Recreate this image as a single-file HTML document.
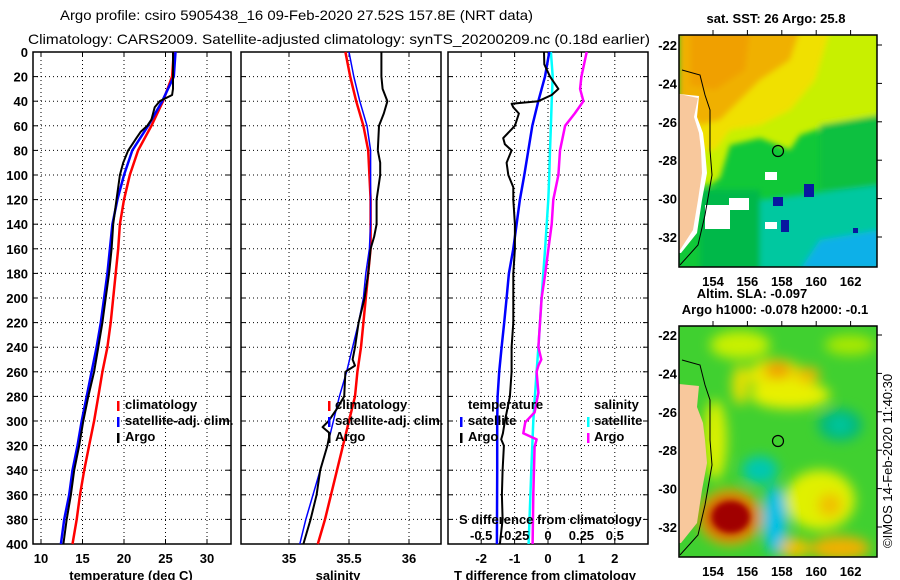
<!DOCTYPE html>
<html><head><meta charset="utf-8"><style>
html,body{margin:0;padding:0;background:#fff;}
svg{display:block;font-family:"Liberation Sans",sans-serif;}
.t{font-size:13px;font-weight:bold;fill:#000;}
</style></head><body>
<svg id="chart" width="900" height="580" viewBox="0 0 900 580" xmlns="http://www.w3.org/2000/svg">
<defs>
<filter id="bl" x="-20%" y="-20%" width="140%" height="140%"><feGaussianBlur stdDeviation="6"/></filter>
<filter id="bl2" x="-20%" y="-20%" width="140%" height="140%"><feGaussianBlur stdDeviation="3"/></filter>
<clipPath id="cm1"><rect x="679" y="35" width="198" height="232"/></clipPath>
<clipPath id="cm2"><rect x="679" y="326" width="198" height="231"/></clipPath>
</defs>
<text x="60" y="20" font-size="14" textLength="473" lengthAdjust="spacingAndGlyphs">Argo profile: csiro 5905438_16 09-Feb-2020 27.52S 157.8E (NRT data)</text>
<text x="28" y="44" font-size="14" textLength="622" lengthAdjust="spacingAndGlyphs">Climatology: CARS2009. Satellite-adjusted climatology: synTS_20200209.nc (0.18d earlier)</text>
<g id="plots"></g>

<!-- SST map -->
<g clip-path="url(#cm1)">
<rect x="679" y="35" width="198" height="232" fill="#10c838"/>
<g filter="url(#bl2)">
<polygon points="679,30 880,30 880,118 840,122 800,135 790,150 760,138 730,145 720,178 710,185 690,185 679,180" fill="#c8f000"/>
<polygon points="679,30 830,30 815,80 790,110 760,125 730,130 715,150 700,150 679,130" fill="#f0e000"/>
<polygon points="679,30 800,30 790,60 760,80 740,100 720,120 700,125 679,100" fill="#f0b000"/>
<polygon points="690,30 750,30 745,70 715,90 690,85" fill="#f0a000"/>
<polygon points="820,125 880,115 880,190 820,190" fill="#08c040"/>
<polygon points="760,200 880,185 880,270 760,270" fill="#00c8a0"/>
<polygon points="820,240 880,230 880,270 800,270" fill="#10b0e8"/>
<polygon points="700,190 760,190 760,270 700,270" fill="#00b848"/>
</g>
<rect x="705" y="205" width="25" height="24" fill="#fff"/>
<rect x="729" y="198" width="20" height="12" fill="#fff"/>
<rect x="765" y="172" width="12" height="8" fill="#fff"/>
<rect x="765" y="222" width="12" height="7" fill="#fff"/>
<rect x="773" y="197" width="10" height="9" fill="#0818a0"/>
<rect x="804" y="184" width="10" height="13" fill="#0818a0"/>
<rect x="781" y="220" width="8" height="12" fill="#0818a0"/>
<rect x="853" y="228" width="5" height="5" fill="#0818a0"/>
<polygon points="679,94 699,96 697,117 703,133 705,150 707,173 702,200 697,233 681,253 679,253" fill="#fff"/>
<polygon points="679,94 698,98 694,117 699,133 701,150 702,173 698,200 693,230 680,250 679,250" fill="#f8c89c"/>
<polyline points="682,70 700,75 705,95 710,110 710,150 712,175 705,215 698,245 680,265" fill="none" stroke="#000" stroke-width="1"/>
<circle cx="778" cy="151" r="5.5" fill="none" stroke="#000" stroke-width="1.2"/>
</g>
<rect x="679" y="35" width="198" height="232" fill="none" stroke="#000" stroke-width="1.5"/>

<!-- SLA map -->
<g clip-path="url(#cm2)">
<rect x="679" y="326" width="198" height="231" fill="#40d030"/>
<g filter="url(#bl)">
<ellipse cx="740" cy="345" rx="30" ry="14" fill="#c8f000"/>
<ellipse cx="775" cy="375" rx="28" ry="16" fill="#e8e800"/>
<ellipse cx="790" cy="395" rx="40" ry="14" fill="#e8f000"/>
<ellipse cx="778" cy="370" rx="14" ry="9" fill="#f0a000"/>
<ellipse cx="808" cy="375" rx="12" ry="8" fill="#f0b800"/>
<ellipse cx="740" cy="385" rx="8" ry="20" fill="#e8e000"/>
<ellipse cx="850" cy="345" rx="25" ry="10" fill="#a8e800"/>
<ellipse cx="840" cy="425" rx="22" ry="16" fill="#00b880"/>
<ellipse cx="840" cy="425" rx="10" ry="8" fill="#00c8a0"/>
<ellipse cx="820" cy="500" rx="35" ry="30" fill="#e0f000"/>
<ellipse cx="830" cy="505" rx="12" ry="12" fill="#f0c000"/>
<ellipse cx="760" cy="470" rx="18" ry="14" fill="#00c8b0"/>
<ellipse cx="775" cy="520" rx="12" ry="35" fill="#00c0e8"/>
<ellipse cx="840" cy="548" rx="30" ry="12" fill="#f0b000"/>
<ellipse cx="795" cy="548" rx="15" ry="10" fill="#f0c000"/>
<ellipse cx="715" cy="440" rx="12" ry="40" fill="#d8f000"/>
<ellipse cx="730" cy="517" rx="32" ry="28" fill="#f0a000"/>
<ellipse cx="730" cy="517" rx="24" ry="20" fill="#c01000"/>
</g>
<ellipse cx="731" cy="517" rx="18" ry="15" fill="#a00000" filter="url(#bl2)"/>
<polygon points="679,384 699,386 697,407 703,423 705,440 707,463 702,490 697,523 681,543 679,543" fill="#f8c89c"/>
<polyline points="682,360 700,365 705,385 710,400 710,440 712,465 705,505 698,535 680,555" fill="none" stroke="#000" stroke-width="1"/>
<circle cx="778" cy="441" r="5.5" fill="none" stroke="#000" stroke-width="1.2"/>
</g>
<rect x="679" y="326" width="198" height="231" fill="none" stroke="#000" stroke-width="1.5"/>

<text class="t" x="776" y="23" text-anchor="middle">sat. SST: 26 Argo: 25.8</text>
<text class="t" x="752" y="298" text-anchor="middle">Altim. SLA: -0.097</text>
<text class="t" x="775" y="314" text-anchor="middle">Argo h1000: -0.078 h2000: -0.1</text>
<text font-size="13" transform="translate(892,548) rotate(-90)">©IMOS 14-Feb-2020 11:40:30</text>
<g id="mapaxes"></g>
</svg>
<script>
// ---- data ----
const depthsT=[0,20,40,60,80,100,120,140,160,180,200,220,240,260,280,300,320,340,360,380,400];
const tempClim=[26.0,25.8,24.7,23.3,21.7,20.7,20.0,19.5,19.3,19.0,18.7,18.4,18.0,17.4,16.9,16.4,15.8,15.2,14.7,14.3,13.8];
const tempSat=[26.2,26.0,24.6,22.9,21.0,20.0,19.2,18.6,18.3,18.0,17.6,17.2,16.7,16.1,15.5,14.9,14.4,13.8,13.4,12.8,12.4];
const depthsArgoT=[0,30,35,40,45,55,60,65,70,75,80,90,100,120,140,160,180,200,220,240,260,280,300,320,340,360,380,400];
const tempArgo=[25.9,25.9,25.8,24.3,23.7,23.3,22.8,22.0,21.5,21.0,20.5,19.9,19.5,19.1,18.7,18.5,18.2,17.8,17.4,16.9,16.4,15.7,15.1,14.6,14.0,13.6,13.1,12.7];
const depthsS=[0,20,40,60,80,100,120,140,160,180,200,220,240,260,280,300,320,340,360,380,400];
const salClim=[35.47,35.51,35.56,35.62,35.66,35.67,35.68,35.68,35.68,35.66,35.64,35.62,35.60,35.57,35.55,35.50,35.45,35.40,35.35,35.30,35.24];
const salSat=[35.50,35.54,35.59,35.65,35.68,35.68,35.68,35.68,35.67,35.64,35.62,35.58,35.53,35.48,35.42,35.37,35.32,35.26,35.20,35.14,35.09];
const depthsArgoS=[0,20,30,40,50,60,80,90,100,120,140,150,160,180,200,220,240,250,255,260,280,290,300,305,310,320,340,360,380,400];
const salArgo=[35.77,35.77,35.78,35.82,35.79,35.75,35.74,35.76,35.76,35.73,35.73,35.71,35.68,35.66,35.63,35.58,35.55,35.53,35.55,35.47,35.46,35.40,35.33,35.28,35.34,35.32,35.26,35.23,35.18,35.12];
const depthsD=[0,20,40,60,80,100,120,140,160,180,200,220,240,260,280,300,340,400];
const dTsat=[0.04,-0.09,-0.29,-0.47,-0.59,-0.71,-0.84,-0.94,-1.04,-1.17,-1.24,-1.31,-1.39,-1.46,-1.51,-1.52,-1.52,-1.53];
const dSsat=[0.022,0.035,0.028,0.022,0.015,0.01,0.002,-0.01,-0.022,-0.035,-0.048,-0.06,-0.072,-0.085,-0.098,-0.11,-0.125,-0.145];
const depthsArgoD=[0,10,20,30,35,40,42,45,50,60,70,75,80,90,100,110,120,140,160,180,200,220,240,260,280,300,310,315,320,340,360,380,400];
const dTargo=[-0.12,-0.11,0.06,0.31,0.11,-0.29,-1.09,-1.04,-0.87,-0.99,-1.34,-1.29,-1.09,-1.24,-1.19,-1.04,-1.04,-0.99,-0.99,-1.04,-1.04,-1.04,-1.09,-1.09,-1.14,-1.29,-1.35,-1.40,-1.32,-1.36,-1.38,-1.36,-1.44];
const depthsArgoDS=[0,20,30,40,50,60,80,100,120,140,160,180,200,220,240,250,255,260,277,293,301,310,315,321,360,400];
const dSargo=[0.29,0.25,0.24,0.265,0.2,0.128,0.09,0.078,0.04,0.028,0.003,-0.02,-0.048,-0.06,-0.072,-0.05,-0.072,-0.085,-0.072,-0.1,-0.17,-0.185,-0.085,-0.1,-0.11,-0.115];
const depthTicks=[0,20,40,60,80,100,120,140,160,180,200,220,240,260,280,300,320,340,360,380,400];
const tTicks=[10,15,20,25,30];
const sTicks=[35,35.5,36];
const dTicks=[-2,-1,0,1,2];
const dsTickLabels=["-0.5","-0.25","0","0.25","0.5"];
const dsTicks=[-0.5,-0.25,0,0.25,0.5];
const lonTicks=[154,156,158,160,162];
const latTicks=[-22,-24,-26,-28,-30,-32];

const NS="http://www.w3.org/2000/svg";
const root=document.getElementById('plots');
function el(tag,attrs,parent){const e=document.createElementNS(NS,tag);for(const k in attrs)e.setAttribute(k,attrs[k]);(parent||root).appendChild(e);return e;}
const y=d=>52+d*1.23;
const xT=t=>41+(t-10)*8.3;
const xS=s=>289+(s-35)*120;
const xD=t=>548+t*33.4;
const xDS=s=>xD(s*4);
const TOP=52,BOT=544;

function frame(x0,x1,name,xt,xfun){
  const g=el('g',{});
  
  
  xt.forEach(v=>{const x=xfun(v);
    const l=el('line',{x1:x,x2:x,y1:TOP,y2:BOT,stroke:'#000','stroke-width':1,'stroke-dasharray':'1,3'},g);
    
    el('line',{x1:x,x2:x,y1:TOP,y2:TOP+5,stroke:'#000'},g);el('line',{x1:x,x2:x,y1:BOT,y2:BOT-5,stroke:'#000'},g);});
  depthTicks.forEach(d=>{const yy=y(d);
    if(d>0&&d<400){const l=el('line',{x1:x0,x2:x1,y1:yy,y2:yy,stroke:'#000','stroke-width':1,'stroke-dasharray':'1,3'},g);
    }
    el('line',{x1:x0,x2:x0+5,y1:yy,y2:yy,stroke:'#000'},g);el('line',{x1:x1,x2:x1-5,y1:yy,y2:yy,stroke:'#000'},g);});
  const r=el('rect',{x:x0,y:TOP,width:x1-x0,height:BOT-TOP,fill:'none',stroke:'#000','stroke-width':1.5},g);
  
  return g;
}
function line(ds,vs,xf,color,w,name){
  const pts=ds.map((d,i)=>xf(vs[i]).toFixed(1)+','+y(d).toFixed(1)).join(' ');
  const p=el('polyline',{points:pts,fill:'none',stroke:color,'stroke-width':w,'stroke-linejoin':'round'});
  
  
}
function text(x,yy,s,name,anchor){const t=el('text',{x:x,y:yy,class:'t','text-anchor':anchor||'start'});t.textContent=s;
  return t;}
function mark(x,yy,color,name){const m=el('rect',{x:x,y:yy-10,width:2.5,height:10,fill:color});
  }

depthTicks.forEach(d=>text(28,y(d)+5,String(d),'y-tick-label','end'));

frame(33,231,'temperature-panel',tTicks,xT);
tTicks.forEach(v=>text(xT(v),563,String(v),'x-tick-label','middle'));
text(131,580,'temperature (deg C)','x-axis-title','middle');
line(depthsT,tempClim,xT,'#f00',2.5,'temp-climatology-line');
line(depthsT,tempSat,xT,'#00f',2.5,'temp-satellite-line');
line(depthsArgoT,tempArgo,xT,'#000',2,'temp-argo-line');
mark(117,411,'#f00','legend-climatology-marker');text(125,409,'climatology','legend-climatology');
mark(117,427,'#00f','legend-satellite-marker');text(125,425,'satellite-adj. clim.','legend-satellite');
mark(117,443,'#000','legend-argo-marker');text(125,441,'Argo','legend-argo');

frame(241,441,'salinity-panel',sTicks,xS);
sTicks.forEach(v=>text(xS(v),563,String(v),'x-tick-label','middle'));
text(338,580,'salinity','x-axis-title','middle');
line(depthsS,salClim,xS,'#f00',2.5,'sal-climatology-line');
line(depthsS,salSat,xS,'#00f',1.5,'sal-satellite-line');
line(depthsArgoS,salArgo,xS,'#000',2,'sal-argo-line');
mark(328,411,'#f00','legend-climatology-marker');text(335,409,'climatology','legend-climatology');
mark(328,427,'#00f','legend-satellite-marker');text(335,425,'satellite-adj. clim.','legend-satellite');
mark(328,443,'#000','legend-argo-marker');text(335,441,'Argo','legend-argo');

frame(448,648,'difference-panel',dTicks,xD);
dTicks.forEach(v=>text(xD(v),563,String(v),'x-tick-label','middle'));
text(545,580,'T difference from climatology','x-axis-title','middle');
line(depthsD,dSsat,xDS,'#0ff',2.5,'sdiff-satellite-line');
line(depthsArgoDS,dSargo,xDS,'#f0f',2.5,'sdiff-argo-line');
line(depthsD,dTsat,xD,'#00f',2.5,'tdiff-satellite-line');
line(depthsArgoD,dTargo,xD,'#000',2,'tdiff-argo-line');
text(468,409,'temperature','legend-temperature-heading');
mark(460,427,'#00f','legend-tsat-marker');text(468,425,'satellite','legend-tsat');
mark(460,443,'#000','legend-targo-marker');text(468,441,'Argo','legend-targo');
text(594,409,'salinity','legend-salinity-heading');
mark(587,427,'#0ff','legend-ssat-marker');text(594,425,'satellite','legend-ssat');
mark(587,443,'#f0f','legend-sargo-marker');text(594,441,'Argo','legend-sargo');
text(459,524,'S difference from climatology','s-axis-title');
dsTicks.forEach((v,i)=>text(xDS(v),540,dsTickLabels[i],'s-tick-label','middle'));

const ma=document.getElementById('mapaxes');
const lonX=l=>713+(l-154)*17.2;
[[35,267,45],[326,557,335]].forEach(([t,b,y22],k)=>{
  lonTicks.forEach(l=>{const x=lonX(l);
    el('line',{x1:x,x2:x,y1:t,y2:t-5,stroke:'#000'},ma);
    const tt=el('text',{x:x,y:b+19,class:'t','text-anchor':'middle','font-size':'14'},ma);tt.textContent=String(l);
    });
  latTicks.forEach(la=>{const yy=y22+(-22-la)*19.2;
    el('line',{x1:877,x2:882,y1:yy,y2:yy,stroke:'#000'},ma);
    const tt=el('text',{x:677,y:yy+5,class:'t','text-anchor':'end','font-size':'14'},ma);tt.textContent=String(la);
    });
});
</script>
</body></html>
